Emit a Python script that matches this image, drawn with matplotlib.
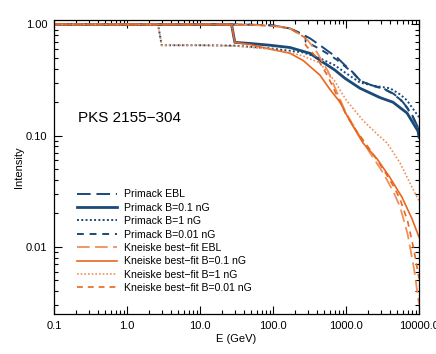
import numpy as np
import matplotlib
matplotlib.use('Agg')
import matplotlib.pyplot as plt

plt.rcParams['font.family'] = ['Liberation Sans', 'DejaVu Sans']

# Primack EBL model curves (E in GeV, normalised intensity)
prim_ebl_e = [0.1, 20, 50, 100, 171, 258, 321, 440, 600, 753, 968, 1250, 1555,
              2200, 3210, 4400, 5500, 6850, 8200, 9690, 10000]
prim_ebl_i = [1.0, 1.0, 0.995, 0.98, 0.92, 0.81, 0.75, 0.65, 0.56, 0.505, 0.43,
              0.37, 0.315, 0.285, 0.267, 0.24, 0.215, 0.18, 0.15, 0.119, 0.112]

prim_b01_e = [0.1, 27, 30, 48, 91, 171, 321, 484, 700, 968, 1555, 2925, 4400,
              6850, 9690, 10000]
prim_b01_i = [1.0, 1.0, 0.69, 0.675, 0.65, 0.62, 0.55, 0.457, 0.39, 0.328,
              0.267, 0.22, 0.20, 0.16, 0.11, 0.097]

prim_b1_e = [0.1, 2.66, 2.98, 10, 30, 91, 258, 440, 700, 968, 1555, 2500, 4010,
             5500, 6850, 8500, 10000]
prim_b1_i = [1.0, 1.0, 0.65, 0.65, 0.645, 0.61, 0.56, 0.496, 0.43, 0.37, 0.30,
             0.28, 0.267, 0.235, 0.208, 0.17, 0.147]

prim_b001_e = [0.1, 20, 50, 100, 171, 258, 280, 280, 321, 440, 600, 753, 968,
               1250, 1555, 2200, 3210, 4400, 5500, 6850, 8200, 9690, 10000]
prim_b001_i = [1.0, 1.0, 0.995, 0.98, 0.92, 0.81, 0.78, 0.70, 0.67, 0.60, 0.53,
               0.48, 0.42, 0.365, 0.313, 0.283, 0.265, 0.238, 0.212, 0.178,
               0.148, 0.118, 0.11]

# Kneiske best-fit EBL model curves
kn_ebl_e = [0.1, 20, 50, 100, 171, 258, 300, 401, 566, 706, 1000, 1400, 2130,
            3000, 3650, 4500, 5500, 7000, 8500, 10000]
kn_ebl_i = [1.0, 1.0, 0.99, 0.97, 0.92, 0.78, 0.72, 0.56, 0.38, 0.27, 0.16,
            0.11, 0.07, 0.05, 0.04, 0.031, 0.023, 0.013, 0.0065, 0.0031]

kn_b01_e = [0.1, 27, 30, 48, 91, 171, 258, 440, 604, 828, 1135, 1710, 2660,
            4010, 5850, 8000, 10000]
kn_b01_i = [1.0, 1.0, 0.69, 0.66, 0.60, 0.55, 0.475, 0.35, 0.26, 0.20, 0.135,
            0.086, 0.062, 0.042, 0.028, 0.018, 0.0123]

kn_b1_e = [0.1, 2.66, 2.98, 10, 30, 91, 171, 258, 440, 700, 1000, 1710, 2600,
           3650, 5500, 8100, 10000]
kn_b1_i = [1.0, 1.0, 0.65, 0.65, 0.64, 0.60, 0.56, 0.52, 0.45, 0.31, 0.21,
           0.137, 0.105, 0.086, 0.057, 0.034, 0.026]

kn_b001_e = [0.1, 20, 50, 100, 171, 258, 280, 280, 401, 566, 706, 1000, 1400,
             2130, 3000, 3650, 4500, 5500, 7000, 8500, 10000]
kn_b001_i = [1.0, 1.0, 0.99, 0.97, 0.92, 0.78, 0.75, 0.65, 0.50, 0.34, 0.25,
             0.155, 0.11, 0.075, 0.054, 0.044, 0.035, 0.027, 0.017, 0.0095,
             0.0052]

x_ticks = [0.1, 1, 10, 100, 1000, 10000]
x_labels = ['0.1', '1.0', '10.0', '100.0', '1000.0', '10000.0']
y_ticks = [0.01, 0.1, 1.0]
y_labels = ['0.01', '0.10', '1.00']

blue = '#1b4a78'
orange = '#e8671f'
light_orange = '#f09058'

fig = plt.figure(figsize=(4.36, 3.54), dpi=100)
ax = fig.add_axes([0.124, 0.113, 0.837, 0.831])

ax.plot(prim_ebl_e, prim_ebl_i, color=blue, lw=1.4, dashes=(7, 3),
        label='Primack EBL')
ax.plot(prim_b01_e, prim_b01_i, color=blue, lw=2.0, label='Primack B=0.1 nG')
ax.plot(prim_b1_e, prim_b1_i, color=blue, lw=1.4, dashes=(1, 1.2),
        label='Primack B=1 nG')
ax.plot(prim_b001_e, prim_b001_i, color=blue, lw=1.4, dashes=(3.5, 3),
        label='Primack B=0.01 nG')
ax.plot(kn_ebl_e, kn_ebl_i, color=light_orange, lw=1.3, dashes=(7, 3),
        label='Kneiske best\u2212fit EBL')
ax.plot(kn_b01_e, kn_b01_i, color=orange, lw=1.2,
        label='Kneiske best\u2212fit B=0.1 nG')
ax.plot(kn_b1_e, kn_b1_i, color=light_orange, lw=1.2, dashes=(1, 1.2),
        label='Kneiske best\u2212fit B=1 nG')
ax.plot(kn_b001_e, kn_b001_i, color=orange, lw=1.2, dashes=(3.5, 3),
        label='Kneiske best\u2212fit B=0.01 nG')

ax.set_xscale('log')
ax.set_yscale('log')
ax.set_xlim(0.1, 10000)
ax.set_ylim(0.0025, 1.1)
ax.set_xticks(x_ticks)
ax.set_xticklabels(x_labels)
ax.set_yticks(y_ticks)
ax.set_yticklabels(y_labels)
ax.tick_params(which='both', direction='in', top=True, right=True,
               labelsize=8, width=0.8)
ax.tick_params(which='major', length=6, pad=5)
ax.tick_params(which='minor', length=3)
for s in ax.spines.values():
    s.set_linewidth(0.9)

ax.set_xlabel('E (GeV)', fontsize=8, labelpad=2)
ax.set_ylabel('Intensity', fontsize=8, labelpad=1)

ax.text(0.213, 0.145, 'PKS 2155\u2212304', fontsize=11, va='center')

ax.legend(loc='upper left', bbox_to_anchor=(0.051, 0.438), frameon=False,
          fontsize=7.6, handlelength=3.8, handletextpad=0.65,
          labelspacing=0.32, borderaxespad=0)

fig.savefig('out.png', dpi=100)
